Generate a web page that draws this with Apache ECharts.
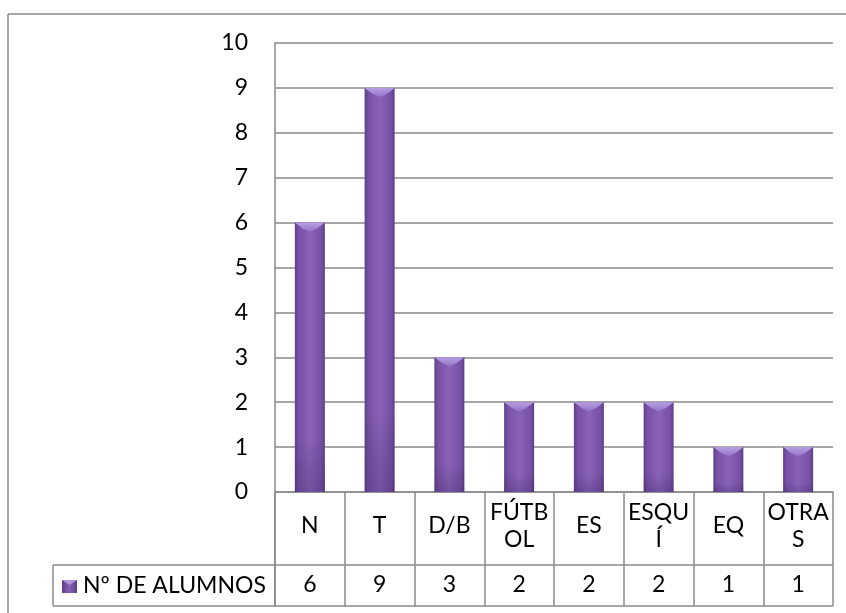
<!DOCTYPE html>
<html>
<head>
<meta charset="utf-8">
<script src="https://cdn.jsdelivr.net/npm/echarts@6/dist/echarts.min.js"></script>
<style>
  html, body { margin: 0; padding: 0; background: #fff; }
  #chart { width: 846px; height: 613px; }
</style>
</head>
<body>
<div id="chart"></div>
<script>
// Sports practised by the pupils
const categories = ['N', 'T', 'D/B', 'FÚTB\nOL', 'ES', 'ESQU\nÍ', 'EQ', 'OTRA\nS'];
const values = [6, 9, 3, 2, 2, 2, 1, 1];
const seriesName = 'Nº DE ALUMNOS';
const yTicks = [0, 1, 2, 3, 4, 5, 6, 7, 8, 9, 10];

const FONT = 'Lato, "Open Sans", sans-serif';
const FS = 23;
const LINE = '#8a8a8a';
const TEXT = '#000';

const chart = echarts.init(document.getElementById('chart'), null, { renderer: 'canvas' });

// Purple column with a lighter bevelled top
function renderColumn(params, api) {
  const idx = api.value(0);
  const top = api.coord([idx, api.value(1)]);
  const base = api.coord([idx, 0]);
  const bw = api.size([1, 0])[0] * 0.43;
  const x = top[0] - bw / 2;
  const h = base[1] - top[1];
  const cap = Math.min(9, h);
  return {
    type: 'group',
    children: [
      {
        type: 'rect',
        shape: { x: x, y: top[1], width: bw, height: h },
        style: {
          fill: new echarts.graphic.LinearGradient(0, 0, 1, 0, [
            { offset: 0, color: '#5d3e8a' },
            { offset: 0.12, color: '#7651a5' },
            { offset: 0.5, color: '#8862b7' },
            { offset: 0.88, color: '#7651a5' },
            { offset: 1, color: '#5d3e8a' }
          ]),
          shadowBlur: 4,
          shadowOffsetX: 2,
          shadowOffsetY: 1,
          shadowColor: 'rgba(0,0,0,0.35)'
        }
      },
      {
        type: 'rect',
        shape: { x: x, y: top[1], width: bw, height: h },
        style: {
          fill: new echarts.graphic.LinearGradient(0, 0, 0, 1, [
            { offset: 0, color: 'rgba(0,0,0,0)' },
            { offset: 0.8, color: 'rgba(0,0,0,0)' },
            { offset: 1, color: 'rgba(30,10,60,0.18)' }
          ])
        }
      },
      {
        type: 'polygon',
        shape: { points: [[x, top[1]], [x + bw, top[1]], [x + bw * 0.72, top[1] + cap * 0.7], [x + bw / 2, top[1] + cap], [x + bw * 0.28, top[1] + cap * 0.7]] },
        style: {
          fill: new echarts.graphic.LinearGradient(0, 0, 0, 1, [
            { offset: 0, color: '#b89fe2' },
            { offset: 1, color: '#9274c6' }
          ])
        }
      }
    ]
  };
}

const option = {
  backgroundColor: '#ffffff',
  animation: false,
  textStyle: { fontFamily: FONT },
  grid: [
    { left: 275, right: 13, top: 43, bottom: 121, containLabel: false },
    { left: 275, right: 13, top: 492, bottom: 7, containLabel: false }
  ],
  xAxis: [
    {
      gridIndex: 0,
      type: 'category',
      data: categories,
      boundaryGap: true,
      axisLine: { show: true, lineStyle: { color: LINE, width: 1.5 } },
      axisTick: { show: false },
      splitLine: { show: false },
      axisLabel: {
        interval: 0,
        margin: 34,
        verticalAlign: 'middle',
        lineHeight: 27,
        fontSize: FS,
        color: TEXT,
        fontFamily: FONT
      }
    },
    {
      gridIndex: 0,
      type: 'category',
      data: categories,
      position: 'bottom',
      boundaryGap: true,
      axisLine: { show: false },
      axisTick: { show: false },
      splitLine: { show: false },
      axisLabel: {
        interval: 0,
        margin: 93,
        verticalAlign: 'middle',
        fontSize: FS,
        color: TEXT,
        fontFamily: FONT,
        formatter: (v, i) => String(values[i])
      }
    },
    {
      gridIndex: 1,
      type: 'category',
      data: categories,
      boundaryGap: true,
      axisLine: { show: false },
      axisTick: { show: false },
      axisLabel: { show: false },
      splitLine: { show: true, lineStyle: { color: LINE, width: 1.5 } }
    }
  ],
  yAxis: [
    {
      gridIndex: 0,
      type: 'value',
      min: yTicks[0],
      max: yTicks[yTicks.length - 1],
      interval: 1,
      axisLine: { show: true, lineStyle: { color: LINE, width: 1.5 } },
      axisTick: { show: false },
      splitLine: { show: true, lineStyle: { color: LINE, width: 1.5 } },
      axisLabel: { margin: 27, fontSize: FS, color: TEXT, fontFamily: FONT }
    },
    {
      gridIndex: 1,
      type: 'value',
      min: 0,
      max: 1,
      show: false
    }
  ],
  series: [
    {
      name: seriesName,
      type: 'custom',
      xAxisIndex: 0,
      yAxisIndex: 0,
      data: values.map((v, i) => [i, v]),
      encode: { x: 0, y: 1 },
      renderItem: renderColumn,
      clip: false
    }
  ]
};

chart.setOption(option);

// Outer frame, data-table rules and the legend key of the table row
function drawTable() {
  const axis = chart.getModel().getComponent('xAxis', 2).axis;
  const bw = axis.getBandWidth();
  const leftEdge = chart.convertToPixel({ xAxisIndex: 2 }, 0) - bw / 2;
  const rightEdge = leftEdge + bw * categories.length;
  const headerTop = 492;
  const rowTop = 565;
  const rowBottom = 606;
  const keyLeft = 53;
  const ln = (x1, y1, x2, y2) => ({
    type: 'line',
    shape: { x1, y1, x2, y2 },
    style: { stroke: LINE, lineWidth: 1.5 },
    silent: true
  });
  chart.setOption({
    graphic: [
      ln(8, 14, 846, 14),
      ln(8, 14, 8, 613),
      ln(keyLeft, rowTop, rightEdge, rowTop),
      ln(keyLeft, rowBottom, rightEdge, rowBottom),
      ln(keyLeft, rowTop, keyLeft, rowBottom),
      ln(leftEdge, headerTop, leftEdge, rowBottom),
      {
        type: 'group',
        x: 62,
        y: 580,
        children: [
          {
            type: 'rect',
            shape: { x: 0, y: 0, width: 15, height: 13 },
            style: {
              fill: new echarts.graphic.LinearGradient(0, 0, 1, 0, [
                { offset: 0, color: '#5d3e8a' },
                { offset: 0.5, color: '#8862b7' },
                { offset: 1, color: '#5d3e8a' }
              ])
            }
          },
          {
            type: 'polygon',
            shape: { points: [[0, 0], [15, 0], [7.5, 5]] },
            style: { fill: '#b194dc' }
          }
        ]
      },
      {
        type: 'text',
        x: 83,
        y: 586,
        style: {
          text: seriesName,
          fontSize: FS,
          fontFamily: FONT,
          fill: TEXT,
          verticalAlign: 'middle'
        }
      }
    ]
  });
}
drawTable();
</script>
</body>
</html>
